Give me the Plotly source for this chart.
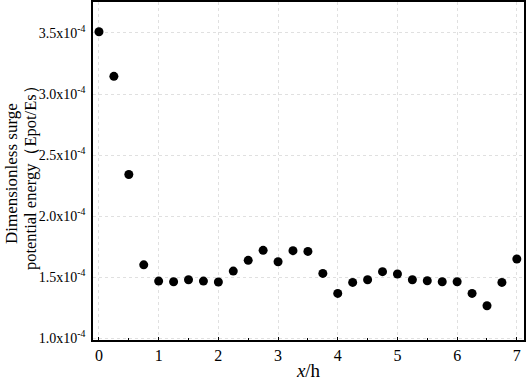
import plotly.graph_objects as go

x_vals = [0, 0.25, 0.5, 0.75, 1, 1.25, 1.5, 1.75, 2, 2.25, 2.5, 2.75, 3, 3.25, 3.5,
          3.75, 4, 4.25, 4.5, 4.75, 5, 5.25, 5.5, 5.75, 6, 6.25, 6.5, 6.75, 7]
energy = [3.51e-4, 3.145e-4, 2.34e-4, 1.60e-4, 1.467e-4, 1.461e-4, 1.478e-4, 1.467e-4,
          1.459e-4, 1.549e-4, 1.637e-4, 1.719e-4, 1.625e-4, 1.716e-4, 1.71e-4, 1.53e-4,
          1.366e-4, 1.456e-4, 1.478e-4, 1.544e-4, 1.525e-4, 1.478e-4, 1.47e-4, 1.461e-4,
          1.461e-4, 1.366e-4, 1.265e-4, 1.456e-4, 1.648e-4]
y_tick_vals = [1.0e-4, 1.5e-4, 2.0e-4, 2.5e-4, 3.0e-4, 3.5e-4]
y_tick_text = ["1.0x10<sup>-4</sup>", "1.5x10<sup>-4</sup>", "2.0x10<sup>-4</sup>",
               "2.5x10<sup>-4</sup>", "3.0x10<sup>-4</sup>", "3.5x10<sup>-4</sup>"]
x_tick_vals = [0, 1, 2, 3, 4, 5, 6, 7]
y_title_lines = ["Dimensionless surge", "potential energy（Epot/Es）"]
x_title = "<i>x</i>/h"

font = "Liberation Serif, Times New Roman, serif"

fig = go.Figure()
fig.add_trace(go.Scatter(x=x_vals, y=energy, mode="markers",
                         marker=dict(color="black", size=9), showlegend=False))

fig.update_layout(
    width=526, height=381,
    margin=dict(l=93, r=2, t=2, b=41),
    plot_bgcolor="white", paper_bgcolor="white",
    font=dict(family=font, size=14, color="black"),
    xaxis=dict(range=[-0.1, 7.12], tickvals=x_tick_vals, ticks="inside", ticklen=3,
               tickcolor="black", automargin=False, tickfont=dict(size=16),
               minor=dict(dtick=0.5, ticks="inside", ticklen=2, tickcolor="black", showgrid=False),
               showline=True, linecolor="black", linewidth=1.5, mirror=True,
               showgrid=True, gridcolor="#e0e0e0", griddash="dot", gridwidth=1,
               zeroline=False,
               title=dict(text=x_title, font=dict(size=19), standoff=6)),
    yaxis=dict(range=[0.984e-4, 3.754e-4], tickvals=y_tick_vals, ticktext=y_tick_text,
               ticks="", automargin=False, ticklabelstandoff=3,
               showline=True, linecolor="black", linewidth=1.5, mirror=True,
               showgrid=True, gridcolor="#e0e0e0", griddash="dot", gridwidth=1,
               zeroline=False),
    annotations=[
        dict(text=y_title_lines[0], textangle=-90, xref="paper", yref="paper",
             x=0, y=0.491, xanchor="center", yanchor="middle", xshift=-82,
             showarrow=False, font=dict(size=17)),
        dict(text=y_title_lines[1], textangle=-90, xref="paper", yref="paper",
             x=0, y=0.491, xanchor="center", yanchor="middle", xshift=-63,
             showarrow=False, font=dict(size=16.5)),
    ],
)

fig.write_html("out.html", config={"displayModeBar": False},
               post_script="document.body.style.margin='0px';")
